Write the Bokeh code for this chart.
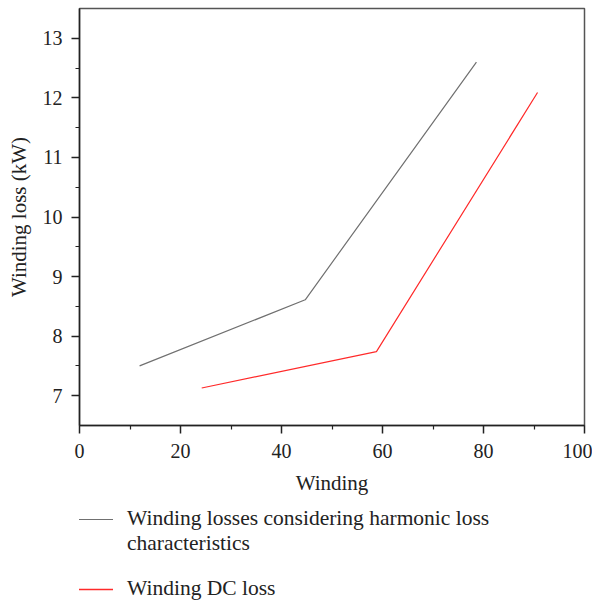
from bokeh.plotting import figure
from bokeh.layouts import column
from bokeh.models import Range1d, FixedTicker, Legend, LegendItem
from bokeh.embed import file_html
from bokeh.resources import INLINE

# Data
x_harmonic = [11.9, 44.7, 78.6]
y_harmonic = [7.50, 8.61, 12.60]
x_dc = [24.2, 58.8, 90.7]
y_dc = [7.13, 7.74, 12.09]

x_ticks = [0, 20, 40, 60, 80, 100]
x_minor = [10, 30, 50, 70, 90]
y_ticks = [7, 8, 9, 10, 11, 12, 13]
y_minor = [7.5, 8.5, 9.5, 10.5, 11.5, 12.5]

label_harmonic_1 = "Winding losses considering harmonic loss"
label_harmonic_2 = "characteristics"
label_dc = "Winding DC loss"

FONT = "Liberation Serif"
GRAY = "#707070"
RED = "#ff2a2a"

p = figure(width=592, height=500, output_backend="svg", toolbar_location=None,
           x_range=Range1d(0, 100), y_range=Range1d(6.5, 13.5),
           min_border_left=79, min_border_right=8, min_border_top=8,
           min_border_bottom=75)

p.background_fill_color = "white"
p.border_fill_color = "white"
p.outline_line_color = "#555555"
p.outline_line_width = 1.5
p.xgrid.visible = False
p.ygrid.visible = False

p.line(x_harmonic, y_harmonic, line_color=GRAY, line_width=1.2)
p.line(x_dc, y_dc, line_color=RED, line_width=1.2)

for ax in (p.xaxis[0], p.yaxis[0]):
    ax.axis_line_color = "#222222"
    ax.axis_line_width = 1.5
    ax.major_tick_line_color = "#222222"
    ax.major_tick_line_width = 1.5
    ax.minor_tick_line_color = "#222222"
    ax.minor_tick_line_width = 1.2
    ax.major_tick_out = 8
    ax.major_tick_in = 0
    ax.minor_tick_out = 4
    ax.minor_tick_in = 0
    ax.major_label_text_font = FONT
    ax.major_label_text_font_size = "20px"
    ax.major_label_text_color = "#222222"
    ax.axis_label_text_font = FONT
    ax.axis_label_text_font_size = "21px"
    ax.axis_label_text_font_style = "normal"
    ax.axis_label_text_color = "#222222"

p.xaxis[0].ticker = FixedTicker(ticks=x_ticks, minor_ticks=x_minor)
p.yaxis[0].ticker = FixedTicker(ticks=y_ticks, minor_ticks=y_minor)
p.xaxis[0].axis_label = "Winding"
p.yaxis[0].axis_label = "Winding loss (kW)"
p.xaxis[0].major_label_standoff = 10
p.yaxis[0].major_label_standoff = 9
p.xaxis[0].axis_label_standoff = 10
p.yaxis[0].axis_label_standoff = 9

# Legend panel below the chart (its frame is aligned with the chart's frame)
lg = figure(width=592, height=101, output_backend="svg", toolbar_location=None,
            x_range=Range1d(0, 1), y_range=Range1d(0, 1),
            min_border_left=0, min_border_right=0, min_border_top=0,
            min_border_bottom=0)
lg.axis.visible = False
lg.xgrid.visible = False
lg.ygrid.visible = False
lg.outline_line_alpha = 0
lg.background_fill_color = "white"
lg.border_fill_color = "white"

# legend proxies: same series, lying outside this panel's (0..1) ranges
k2 = lg.line(x_dc, y_dc, line_color=RED, line_alpha=1.0, line_width=1.3)
k1 = lg.line(x_harmonic, y_harmonic, line_color=GRAY, line_alpha=1.0, line_width=1.2)
k_blank = lg.line(x_dc, y_dc, line_alpha=0)

legend = Legend(items=[LegendItem(label=label_harmonic_1, renderers=[k1]),
                       LegendItem(label=label_harmonic_2, renderers=[k_blank]),
                       LegendItem(label=" ", renderers=[k_blank]),
                       LegendItem(label=label_dc, renderers=[k2])],
                location=(-1, 0), orientation="vertical", label_text_font=FONT,
                label_text_font_size="21.5px", label_text_color="#222222",
                glyph_width=35, glyph_height=20, label_height=20,
                label_standoff=14, spacing=-3, padding=0, margin=0,
                border_line_alpha=0, background_fill_alpha=0)
lg.add_layout(legend)

layout = column(p, lg, spacing=0)
open("out.html", "w").write(file_html(layout, INLINE))
